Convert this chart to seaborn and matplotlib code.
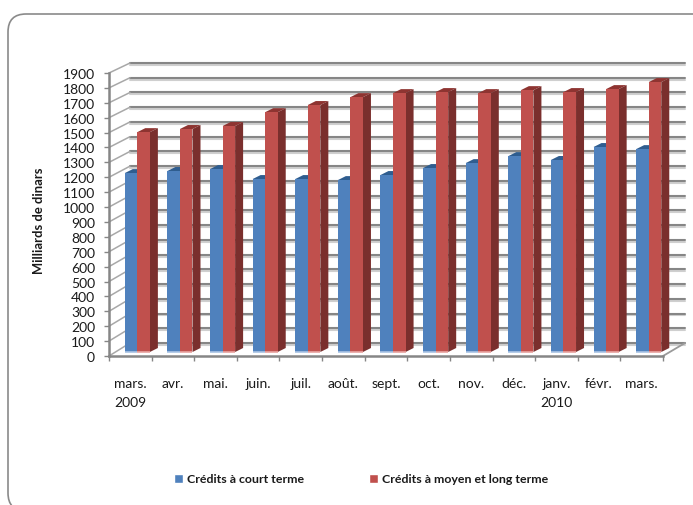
import pandas as pd
import seaborn as sns
import matplotlib.pyplot as plt
import matplotlib.patheffects as pe
from matplotlib.lines import Line2D
from matplotlib.patches import FancyBboxPatch, Polygon

# values (milliards de dinars)
months = ["mars.\n2009", "avr.", "mai.", "juin.", "juil.", "août.", "sept.", "oct.",
          "nov.", "déc.", "janv.\n2010", "févr.", "mars."]
court_terme = [1201, 1215, 1228, 1161, 1161, 1154, 1188, 1235, 1268, 1315, 1289, 1376, 1362]
moyen_long_terme = [1476, 1497, 1517, 1610, 1658, 1711, 1738, 1745, 1738, 1758, 1745, 1765, 1812]
name_court = "Crédits à court terme"
name_long = "Crédits à moyen et long terme"
y_ticks = list(range(0, 2000, 100))

W, H = 693, 506
FONT = "Lato"
GRID = "#868686"

sns.set_theme(style="white")
plt.rcParams["font.family"] = [FONT, "DejaVu Sans"]
plt.rcParams["text.color"] = "#1a1a1a"


def box(left, right, top, bottom):
    # pixel box of the picture -> figure fractions
    return [left / W, 1 - bottom / H, (right - left) / W, (bottom - top) / H]


fig = plt.figure(figsize=(W / 100, H / 100), dpi=100)
fig.patch.set_facecolor("white")

# rounded frame, runs off the picture on the right and at the bottom
frame = FancyBboxPatch((8 / W, 1 - 512 / H), 760 / W, (512 - 15) / H,
                       boxstyle="round,pad=0,rounding_size=0.026", transform=fig.transFigure,
                       fc="none", ec="#8a8a8a", lw=1.2, mutation_aspect=W / H)
fig.add_artist(frame)

# back wall with the gridlines
ax_back = fig.add_axes(box(130, 685, 64, 344), zorder=0)
ax_back.set_xlim(0, 1)
ax_back.set_ylim(0, 1900)
ax_back.set_yticks(y_ticks)
ax_back.set_xticks([])
ax_back.tick_params(left=False, labelleft=False)
sns.despine(ax=ax_back, left=True, bottom=True)
ax_back.grid(True, axis="y", color=GRID, lw=1.5)
for line in ax_back.get_ygridlines():
    line.set_path_effects([pe.SimpleLineShadow(offset=(0, -1.4), shadow_color="#cfcfcf", alpha=1),
                           pe.Normal()])
    line.set_clip_on(False)

# front axes: only the spines, ticks and labels
ax = fig.add_axes(box(109, 663, 74, 357), zorder=1)
ax.patch.set_alpha(0)
ax.set_xlim(-0.5, 12.5)
ax.set_ylim(0, 1900)
ax.set_yticks(y_ticks)
ax.set_xticks([i - 0.5 for i in range(14)], minor=False)
ax.set_xticklabels([])
ax.set_xticks(range(13), labels=months, minor=True)
sns.despine(ax=ax)
for side in ["left", "bottom"]:
    ax.spines[side].set_color(GRID)
    ax.spines[side].set_linewidth(1.8)
ax.tick_params(axis="y", length=3.5, width=1, color=GRID, pad=6.5, labelsize=10, left=True, labelcolor="#1a1a1a")
ax.tick_params(axis="x", which="major", length=3.5, width=1, color=GRID, bottom=True)
ax.tick_params(axis="x", which="minor", length=0, pad=15, labelsize=10, labelcolor="#1a1a1a")
for lab in ax.get_xticklabels(minor=True):
    lab.set_linespacing(1.7)
    lab.set_verticalalignment("top")
fig.text(39 / W, 1 - 221 / H, "Milliards de dinars", rotation=90, ha="center", va="center",
         fontsize=9.4, fontweight="bold")

# side wall and floor strokes between front and back axes
for v in y_ticks:
    y_front = 357 - v * 283 / 1900
    y_back = 344 - v * 280 / 1900
    fig.add_artist(Line2D([109 / W, 130 / W], [1 - y_front / H, 1 - y_back / H],
                          color="#a8a8a8", lw=1.1, transform=fig.transFigure, zorder=0.5))
fig.add_artist(Line2D([663 / W, 685 / W], [1 - 357 / H, 1 - 344 / H],
                      color="#9a9a9a", lw=1.3, transform=fig.transFigure, zorder=0.5))

# bars stand a little inside the depth of the floor
ax_bars = fig.add_axes(box(116, 670, 70, 353), zorder=2)
ax_bars.patch.set_alpha(0)
df = pd.DataFrame({
    "mois": list(range(13)) * 2,
    "valeur": court_terme + moyen_long_terme,
    "serie": [name_court] * 13 + [name_long] * 13,
})
sns.barplot(data=df, x="mois", y="valeur", hue="serie", ax=ax_bars, width=0.59, gap=0,
            palette=["#4F81BD", "#C0504D"], saturation=1, legend=False, linewidth=0)
ax_bars.set_xlim(-0.5, 12.5)
ax_bars.set_ylim(0, 1900)
ax_bars.axis("off")

# depth of a bar, from pixels to data units
dx = 8.0 / (554 / 13)
dy = 4.0 / (283 / 1900)
faces = [("#2F5D8F", "#2F5D8F", "#A9C3E4", 3), ("#8E3431", "#7A2F2D", "#E8A3A1", 6)]
bars = list(ax_bars.patches)
for i, bar in enumerate(bars):
    top_col, side_col, foot_col, z = faces[0] if i < 13 else faces[1]
    x0, x1 = bar.get_x(), bar.get_x() + bar.get_width()
    h = bar.get_height()
    bar.set_zorder(z + 1)
    ax_bars.add_patch(Polygon([(x0, h), (x1, h), (x1 + dx, h + dy), (x0 + dx, h + dy)],
                              fc=top_col, ec="none", zorder=z, clip_on=False))
    ax_bars.add_patch(Polygon([(x1, 0), (x1 + dx, dy), (x1 + dx, h + dy), (x1, h)],
                              fc=side_col, ec="none", zorder=z, clip_on=False))
    ax_bars.plot([x0, x1], [0, 0], color=foot_col, lw=1.2, zorder=z + 2, clip_on=False,
                 solid_capstyle="butt")

# legend
handles = [plt.Rectangle((0, 0), 1, 1, fc="#4F81BD"), plt.Rectangle((0, 0), 1, 1, fc="#C0504D")]
leg = fig.legend(handles, [name_court, name_long], ncol=2, frameon=False,
                 loc="center left", bbox_to_anchor=(174 / W, 1 - 480 / H),
                 borderpad=0, borderaxespad=0, handlelength=0.75, handleheight=0.75,
                 handletextpad=0.3, columnspacing=5.25, prop={"family": FONT, "weight": "bold", "size": 8.9})

fig.savefig("out.png", dpi=100)
